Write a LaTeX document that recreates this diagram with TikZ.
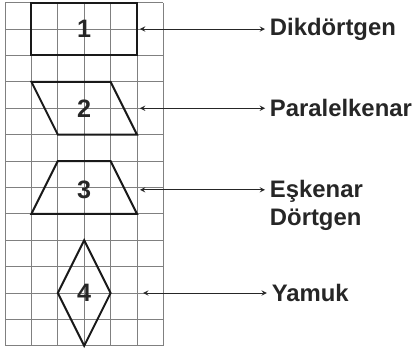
\documentclass[tikz,border=0pt]{standalone}
\usepackage{fontspec}
\setmainfont{Liberation Sans}
\usepackage{tikz}
\usetikzlibrary{
    arrows,
    calc,
    positioning
}
\tikzset{grdl/.style={draw=black!50, line width=0.6pt}}
\tikzset{shpe/.style={draw=black!90, line width=1.5pt, line join=miter}}
\tikzset{nmbr/.style={inner sep=0pt, font=\fontsize{19}{21}\selectfont\bfseries, text=black!85}}
\tikzset{wrd/.style={inner sep=3.5pt, anchor=west, font=\fontsize{18}{21.5}\selectfont\bfseries, text=black!85}}
\tikzset{arw/.style={<->, >=stealth, line width=0.8pt, draw=black!85}}

\begin{document}
\begin{tikzpicture}[x=0.7cm, y=0.7cm]
                        \useasboundingbox (-0.19, -0.27) rectangle (15.53, 13.10);
                        % squared paper first, shapes on top
                        \draw[grdl, step=1] (0, 0) grid (6, 13);

                        \draw[shpe] (1, 11) -- (5, 11) -- (5, 13) -- (1, 13) -- cycle;
                        \draw[shpe] (1, 10) -- (4, 10) -- (5, 8) -- (2, 8) -- cycle;
                        \draw[shpe] (2, 7) -- (4, 7) -- (5, 5) -- (1, 5) -- cycle;
                        \draw[shpe] (3, 4) -- (4, 2) -- (3, 0) -- (2, 2) -- cycle;

                        \node[nmbr] (n1) at (3, 12) {1};
                        \node[nmbr] (n2) at (3, 9) {2};
                        \node[nmbr] (n3) at (3, 5.9) {3};
                        \node[nmbr] (n4) at (3, 2) {4};

                        \node[wrd] (t1) at (9.85, 12) {Dikdörtgen};
                        \node[wrd] (t2) at (9.85, 9) {Paralelkenar};
                        \node[wrd, anchor=north west, align=left] (t3) at (9.85, 6.47) {Eşkenar\\Dörtgen};
                        \node[wrd] (t4) at (9.92, 2) {Yamuk};

                        \coordinate (a1) at (5.11, 12);
                        \coordinate (a2) at (5.11, 9);
                        \coordinate (a3) at (5.11, 5.91);
                        \coordinate (a4) at (5.23, 2);

                        \draw
                        (a1) edge[arw] (t1.west)
                        (a2) edge[arw] (t2.west)
                        (a3) edge[arw] (a3 -| t3.west)
                        (a4) edge[arw] (t4.west);
                    \end{tikzpicture}
\end{document}
